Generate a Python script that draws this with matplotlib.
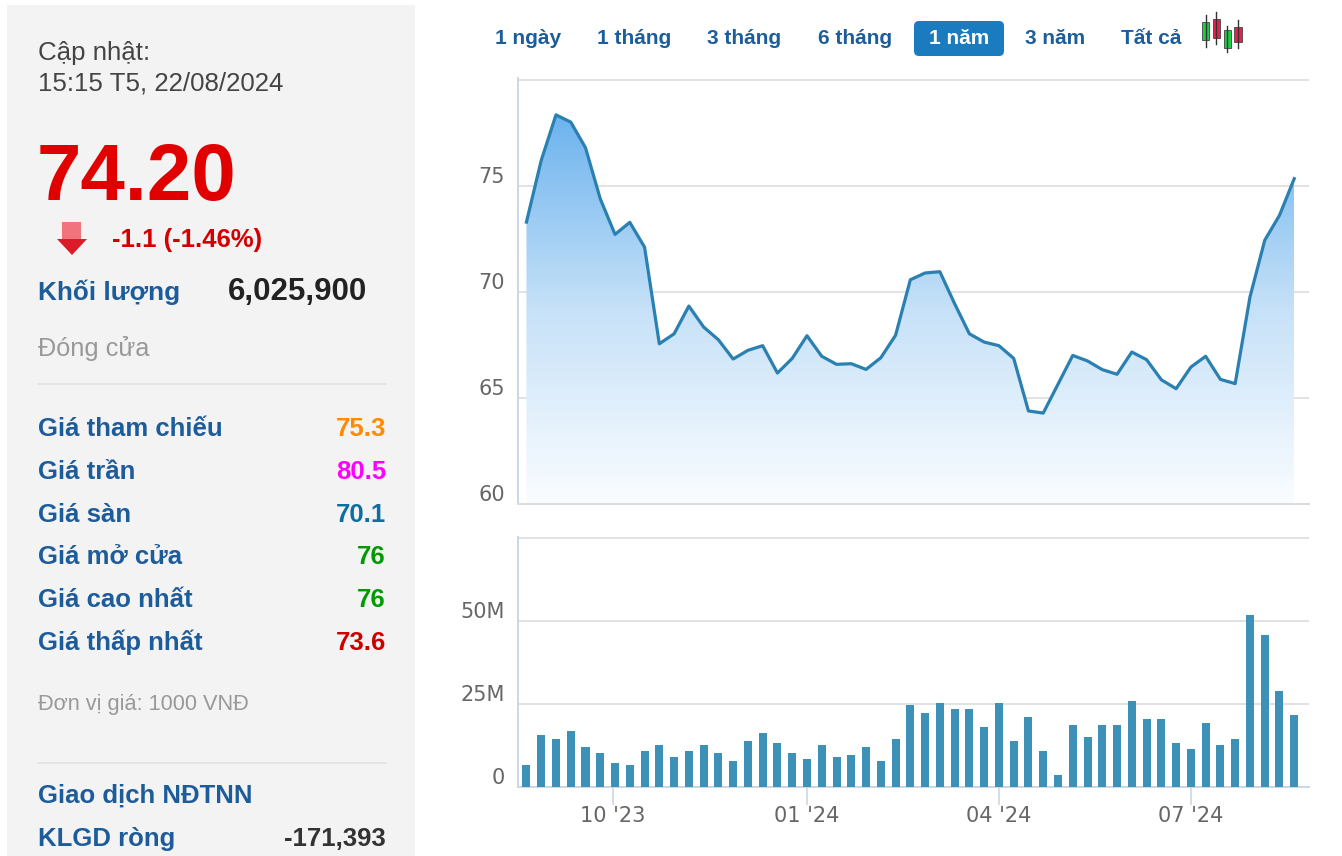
"""Bảng giá + biểu đồ 1 năm (giá đóng cửa tuần và khối lượng)."""

import matplotlib

matplotlib.use("Agg")
import matplotlib.dates as mdates
import matplotlib.pyplot as plt
import numpy as np
import pandas as pd
from matplotlib.colors import LinearSegmentedColormap
from matplotlib.patches import FancyBboxPatch, Polygon, Rectangle
from matplotlib.transforms import ScaledTranslation

W, H = 1342, 856
SANS = ["Liberation Sans", "DejaVu Sans"]

# giá đóng cửa theo tuần (nghìn VND), 21/08/2023 -> 19/08/2024
weeks = pd.date_range("2023-08-21", periods=53, freq="7D")
close = [73.30, 76.21, 78.36, 78.02, 76.81, 74.40, 72.72, 73.29, 72.12, 67.56,
         68.03, 69.34, 68.35, 67.75, 66.84, 67.25, 67.47, 66.18, 66.87, 67.94,
         66.97, 66.59, 66.62, 66.35, 66.90, 67.96, 70.58, 70.90, 70.96, 69.45,
         68.03, 67.64, 67.47, 66.87, 64.39, 64.29, 65.65, 67.01, 66.75, 66.34,
         66.12, 67.17, 66.81, 65.86, 65.44, 66.46, 66.97, 65.88, 65.68, 69.76,
         72.44, 73.62, 75.35]
# khối lượng theo tuần (triệu cp)
volume_m = [6.7, 15.7, 14.5, 16.9, 12.1, 10.3, 7.3, 6.7, 10.9, 12.7,
            9.1, 10.9, 12.7, 10.3, 7.9, 13.9, 16.3, 13.3, 10.3, 8.5,
            12.7, 9.1, 9.7, 12.1, 7.9, 14.5, 24.7, 22.3, 25.3, 23.5,
            23.5, 18.1, 25.3, 13.9, 21.1, 10.9, 3.7, 18.7, 15.1, 18.7,
            18.7, 25.9, 20.5, 20.5, 13.3, 11.5, 19.3, 12.7, 14.5, 51.7,
            45.7, 28.9, 21.7]

price_ticks = [60, 65, 70, 75, 80]
price_labels = ["60", "65", "70", "75", ""]
vol_ticks = [0, 25, 50, 75]
vol_labels = ["0", "25M", "50M", ""]

periods = ["1 ngày", "1 tháng", "3 tháng", "6 tháng", "1 năm", "3 năm", "Tất cả"]
active_period = "1 năm"

info_rows = [
    ("Giá tham chiếu", "75.3", "#ff8a00"),
    ("Giá trần", "80.5", "#ff00ff"),
    ("Giá sàn", "70.1", "#0d6ea3"),
    ("Giá mở cửa", "76", "#009a00"),
    ("Giá cao nhất", "76", "#009a00"),
    ("Giá thấp nhất", "73.6", "#cc0000"),
]

LABEL_BLUE = "#1d5c9a"
GRID = "#e2e2e2"
AXIS = "#ccd6eb"


def axes_box(left, top, right, bottom):
    return [left / W, 1 - bottom / H, (right - left) / W, (bottom - top) / H]


fig = plt.figure(figsize=(W / 100, H / 100), dpi=100)
fig.patch.set_facecolor("white")

# lớp phủ toạ độ pixel cho phần bảng bên trái và các nút
ov = fig.add_axes([0, 0, 1, 1], zorder=-1)
ov.set_xlim(0, W)
ov.set_ylim(H, 0)
ov.axis("off")

ov.add_patch(Rectangle((7, 5), 408, 851, facecolor="#f4f3f4", edgecolor="none"))

ov.text(38, 60, "Cập nhật:", fontsize=18.6, color="#444444", family=SANS)
ov.text(38, 90, "15:15 T5, 22/08/2024", fontsize=18.6, color="#444444", family=SANS)
ov.text(37, 200, "74.20", fontsize=57.5, fontweight="bold", color="#e00000", family=SANS)

# mũi tên giảm
ov.add_patch(Rectangle((62, 222), 19, 18, facecolor="#f2737b", edgecolor="none"))
ov.add_patch(Polygon([(57, 239), (87, 239), (72, 255)], closed=True,
                     facecolor="#dc1b2a", edgecolor="none"))
ov.text(112, 247, "-1.1 (-1.46%)", fontsize=18.5, fontweight="bold", color="#d40000", family=SANS)

ov.text(38, 300, "Khối lượng", fontsize=18.8, fontweight="bold", color=LABEL_BLUE, family=SANS)
ov.text(367, 300, "6,025,900", fontsize=22.5, fontweight="bold", color="#222222",
        ha="right", family=SANS)
ov.text(38, 356, "Đóng cửa", fontsize=18.3, color="#999999", family=SANS)
ov.plot([38, 386], [384, 384], color="#e2e2e2", lw=1.2)

for i, (name, value, col) in enumerate(info_rows):
    y = 435.7 + i * 42.9
    ov.text(38, y, name, fontsize=18.5, fontweight="bold", color=LABEL_BLUE, family=SANS)
    ov.text(386, y, value, fontsize=18.5, fontweight="bold", color=col, ha="right", family=SANS)

ov.text(38, 710, "Đơn vị giá: 1000 VNĐ", fontsize=15.7, color="#999999", family=SANS)
ov.plot([38, 386], [763, 763], color="#e2e2e2", lw=1.2)
ov.text(38, 803, "Giao dịch NĐTNN", fontsize=18.5, fontweight="bold", color=LABEL_BLUE, family=SANS)
ov.text(38, 846, "KLGD ròng", fontsize=18.5, fontweight="bold", color=LABEL_BLUE, family=SANS)
ov.text(386, 846, "-171,393", fontsize=18.5, fontweight="bold", color="#333333",
        ha="right", family=SANS)

# nút chọn khoảng thời gian
btn_x = [528, 634, 744.5, 855, 959, 1055, 1151.5]
for x, label in zip(btn_x, periods):
    if label == active_period:
        ov.add_patch(FancyBboxPatch((914, 21), 90, 35,
                                    boxstyle="round,pad=0,rounding_size=5",
                                    facecolor="#1a7bbf", edgecolor="none"))
        txt_col = "white"
    else:
        txt_col = "#1d5d9b"
    ov.text(x, 38, label, fontsize=15, fontweight="bold", color=txt_col,
            ha="center", va="center", family=SANS)

# biểu tượng nến
candles = [
    (1202.3, 1209.0, 22.3, 40.0, 15.0, 46.7, "#1fcc45"),
    (1213.0, 1219.7, 19.0, 38.3, 11.7, 44.3, "#ea1f4b"),
    (1224.0, 1230.7, 30.0, 47.7, 25.7, 52.3, "#1fcc45"),
    (1234.3, 1241.7, 27.3, 41.7, 20.0, 48.3, "#ea1f4b"),
]
for xl, xr, bt, bb, wt, wb, col in candles:
    xm = (xl + xr) / 2
    ov.plot([xm, xm], [wt, wb], color="#333333", lw=1.0)
    ov.add_patch(Rectangle((xl, bt), xr - xl, bb - bt, facecolor=col,
                           edgecolor="#444444", lw=0.6))

# ---- biểu đồ giá ----
xmin = weeks[0] - pd.Timedelta(days=4)
xmax = weeks[-1] + pd.Timedelta(days=7)

ax_p = fig.add_axes(axes_box(518, 78, 1309, 504))
fill = ax_p.fill_between(weeks, close, 60, facecolor="none", edgecolor="none")
cmap = LinearSegmentedColormap.from_list("area", ["#fafdff", "#c6e1f8", "#6cb3ee"])
grad = np.linspace(0, 1, 256).reshape(-1, 1)
img = ax_p.imshow(grad, extent=[mdates.date2num(weeks[0]), mdates.date2num(weeks[-1]),
                                60, max(close)],
                  origin="lower", aspect="auto", cmap=cmap, zorder=1)
img.set_clip_path(fill.get_paths()[0], transform=ax_p.transData)
ax_p.plot(weeks, close, color="#2a80b1", lw=2.3, solid_joinstyle="round", zorder=3)

ax_p.set_xlim(xmin, xmax)
ax_p.set_ylim(60, 80.1)
ax_p.set_yticks(price_ticks)
ax_p.set_yticklabels(price_labels)
ax_p.tick_params(axis="x", length=0, labelbottom=False)

# ---- biểu đồ khối lượng ----
ax_v = fig.add_axes(axes_box(518, 537, 1309, 787))
ax_v.bar(weeks, volume_m, width=3.8, color="#3d91b6", zorder=3)
ax_v.set_xlim(xmin, xmax)
ax_v.set_ylim(0, 75.3)
ax_v.set_yticks(vol_ticks)
ax_v.set_yticklabels(vol_labels)
ax_v.xaxis.set_major_locator(mdates.MonthLocator(bymonth=[1, 4, 7, 10]))
ax_v.xaxis.set_major_formatter(mdates.DateFormatter("%m '%y"))
ax_v.tick_params(axis="x", length=13, width=1.2, color=AXIS, pad=1,
                 labelsize=15, labelcolor="#666666")

shift = ScaledTranslation(0, 11 / 100, fig.dpi_scale_trans)
for ax, bottom_col in ((ax_p, "#dcdcdc"), (ax_v, AXIS)):
    ax.set_facecolor("none")
    ax.grid(axis="y", color=GRID, lw=1.4, zorder=0)
    ax.set_axisbelow(True)
    for side in ("top", "right"):
        ax.spines[side].set_visible(False)
    ax.spines["left"].set_color(AXIS)
    ax.spines["left"].set_linewidth(1.4)
    ax.spines["bottom"].set_color(bottom_col)
    ax.spines["bottom"].set_linewidth(1.4)
    ax.tick_params(axis="y", length=0, pad=9.4, labelsize=15, labelcolor="#666666")
    for lab in ax.get_yticklabels():
        lab.set_transform(lab.get_transform() + shift)

fig.savefig("out.png", dpi=100)
